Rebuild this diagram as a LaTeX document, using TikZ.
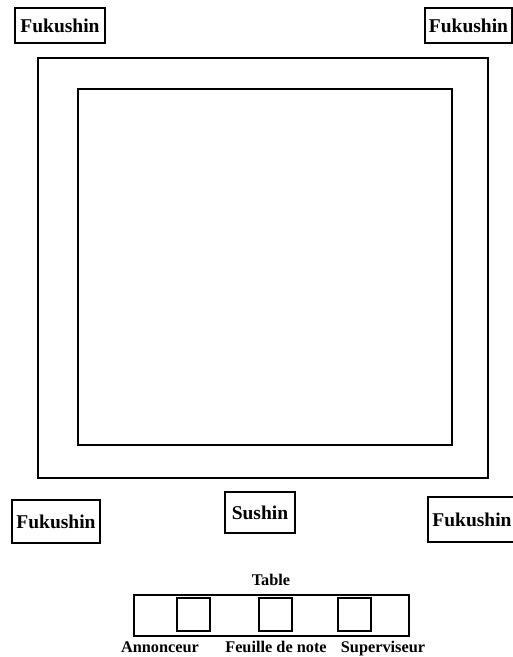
\documentclass[tikz,border=0pt]{standalone}
\usepackage{fontspec}
\setmainfont{Liberation Serif}
\tikzset{
  judge/.style={draw, line width=1.6pt, inner sep=0pt, font=\bfseries\fontsize{19.5}{23}\selectfont},
  frame/.style={draw, line width=1.6pt, inner sep=0pt},
  seat/.style={draw, line width=1.6pt, inner sep=0pt, minimum width=33pt, minimum height=33pt},
  lbl/.style={inner sep=0pt, anchor=base, font=\bfseries\fontsize{16.3}{19}\selectfont}
}
\begin{document}
\begin{tikzpicture}[x=1pt, y=-1pt]
  \useasboundingbox[fill=white] (0,0) rectangle (513,657);

  % mat
  \node[frame, minimum width=450pt, minimum height=420pt] at (263, 268) (jogai) {};
  \node[frame, minimum width=374pt, minimum height=356pt] at (265, 267) (shiaijo) {};

  % judges
  \node[judge, minimum width=90pt, minimum height=35pt] at (60, 25.5) (fuku_nw) {Fukushin};
  \node[judge, minimum width=87pt, minimum height=35pt] at (468.5, 25.5) (fuku_ne) {Fukushin};
  \node[judge, minimum width=88pt, minimum height=43pt] at (56, 521.5) (fuku_sw) {Fukushin};
  \node[judge, minimum width=70pt, minimum height=41pt] at (260, 512.5) (sushin) {Sushin};
  \node[judge, minimum width=88pt, minimum height=45pt] at (472, 519.5) (fuku_se) {Fukushin};

  % table
  \node[lbl] at (271, 585) (table_lbl) {Table};
  \node[frame, minimum width=275pt, minimum height=41pt] at (271.5, 615.5) (table) {};
  \node[seat] at (193.5, 614.5) (annonceur) {};
  \node[seat] at (275.5, 614.5) (feuille) {};
  \node[seat] at (354.5, 614.5) (superviseur) {};
  \node[lbl] at (160, 652) (annonceur_lbl) {Annonceur};
  \node[lbl] at (276, 652) (feuille_lbl) {Feuille de note};
  \node[lbl] at (383, 652) (superviseur_lbl) {Superviseur};

\end{tikzpicture}
\end{document}
